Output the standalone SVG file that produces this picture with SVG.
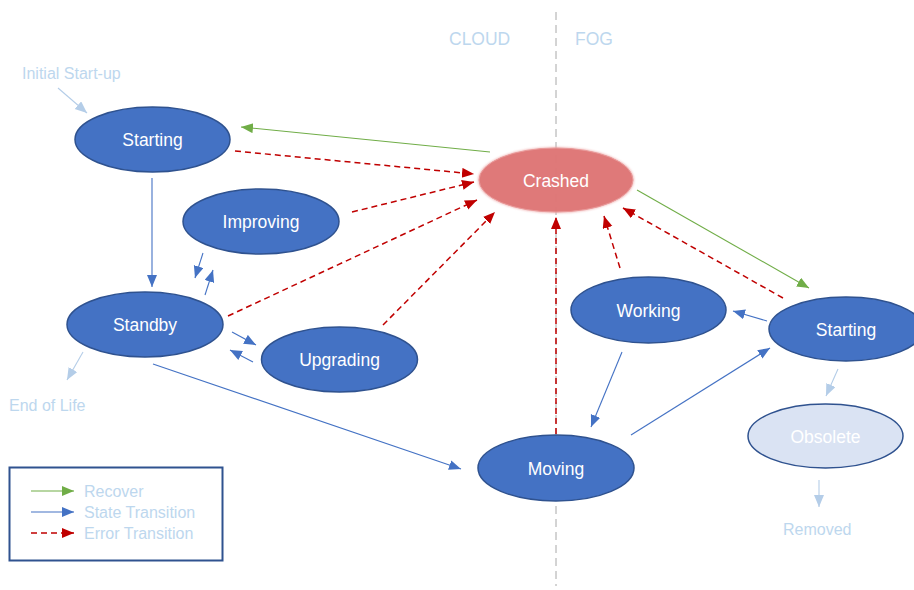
<svg xmlns="http://www.w3.org/2000/svg" width="914" height="590" viewBox="0 0 914 590">
  <style>
    .node { fill: #4472c4; stroke: #2f528f; stroke-width: 1.5; }
    .label { font-family: "Liberation Sans", Arial, sans-serif; font-size: 17.5px; fill: #ffffff; text-anchor: middle; }
    .note { font-family: "Liberation Sans", Arial, sans-serif; font-size: 16px; fill: #bdd7ee; }
    .zone { font-family: "Liberation Sans", Arial, sans-serif; font-size: 17.5px; fill: #bdd7ee; }
    .state { stroke: #4472c4; stroke-width: 1.1; fill: none; marker-end: url(#headBlue); }
    .soft { stroke: #b4cde8; stroke-width: 1.1; fill: none; marker-end: url(#headPale); }
    .recover { stroke: #70ad47; stroke-width: 1.1; fill: none; marker-end: url(#headGreen); }
    .error { stroke: #c00000; stroke-width: 1.5; stroke-dasharray: 6 4; fill: none; marker-end: url(#headRed); }
  </style>
  <defs>
    <marker id="headBlue" markerUnits="userSpaceOnUse" markerWidth="14" markerHeight="12" refX="12" refY="5" orient="auto">
      <path d="M0,0 L12,5 L0,10 z" fill="#4472c4"/>
    </marker>
    <marker id="headPale" markerUnits="userSpaceOnUse" markerWidth="14" markerHeight="12" refX="12" refY="5" orient="auto">
      <path d="M0,0 L12,5 L0,10 z" fill="#b4cde8"/>
    </marker>
    <marker id="headGreen" markerUnits="userSpaceOnUse" markerWidth="14" markerHeight="12" refX="12" refY="5" orient="auto">
      <path d="M0,0 L12,5 L0,10 z" fill="#70ad47"/>
    </marker>
    <marker id="headRed" markerUnits="userSpaceOnUse" markerWidth="14" markerHeight="12" refX="12" refY="5" orient="auto">
      <path d="M0,0 L12,5 L0,10 z" fill="#c00000"/>
    </marker>
    <filter id="glow" x="-20%" y="-30%" width="140%" height="160%">
      <feGaussianBlur stdDeviation="1.2"/>
    </filter>
  </defs>

  <rect width="914" height="590" fill="#ffffff"/>

  <!-- cloud / fog divider -->
  <line x1="556" y1="12" x2="556" y2="586" stroke="#a6a6a6" stroke-width="1.2" stroke-dasharray="8 5" opacity="0.8"/>

  <!-- zone titles -->
  <text class="zone" x="449" y="45">CLOUD</text>
  <text class="zone" x="575" y="45">FOG</text>

  <!-- free-standing notes -->
  <text class="note" x="22" y="79">Initial Start-up</text>
  <text class="note" x="9" y="411">End of Life</text>
  <text class="note" x="783" y="535">Removed</text>

  <!-- connectors -->
  <g id="connectors">
    <!-- pale lifecycle arrows -->
    <line class="soft" x1="58" y1="88" x2="87" y2="113"/>
    <line class="soft" x1="83" y1="352" x2="67" y2="380"/>
    <line class="soft" x1="838" y1="369" x2="826" y2="396"/>
    <line class="soft" x1="819" y1="480" x2="819" y2="507"/>

    <!-- state transitions -->
    <line class="state" x1="152" y1="178" x2="152" y2="287" stroke="#8faadc"/>
    <line class="state" x1="203" y1="253" x2="195" y2="278"/>
    <line class="state" x1="205" y1="295" x2="213" y2="270"/>
    <line class="state" x1="232" y1="332" x2="256" y2="345"/>
    <line class="state" x1="253" y1="362" x2="230" y2="350"/>
    <line class="state" x1="153" y1="364" x2="461" y2="469"/>
    <line class="state" x1="631" y1="435" x2="770" y2="348"/>
    <line class="state" x1="767" y1="321" x2="733" y2="311"/>
    <line class="state" x1="622" y1="352" x2="591" y2="427"/>

    <!-- recover -->
    <line class="recover" x1="490" y1="152" x2="241" y2="127"/>
    <line class="recover" x1="637" y1="190" x2="809" y2="288"/>

    <!-- error transitions -->
    <line class="error" x1="235" y1="151" x2="474" y2="174"/>
    <line class="error" x1="352" y1="212" x2="474" y2="182"/>
    <line class="error" x1="228" y1="316" x2="477" y2="200"/>
    <line class="error" x1="383" y1="325" x2="495" y2="212"/>
    <line class="error" x1="556" y1="434" x2="556" y2="217"/>
    <line class="error" x1="620" y1="268" x2="604" y2="216"/>
    <line class="error" x1="783" y1="298" x2="623" y2="208"/>
  </g>

  <!-- nodes -->
  <g id="starting-cloud">
    <ellipse class="node" cx="152.5" cy="139.5" rx="77.5" ry="32.5"/>
    <text class="label" x="152.5" y="146">Starting</text>
  </g>
  <g id="improving">
    <ellipse class="node" cx="261" cy="221.5" rx="78" ry="32.5"/>
    <text class="label" x="261" y="228">Improving</text>
  </g>
  <g id="standby">
    <ellipse class="node" cx="145" cy="324.5" rx="78" ry="32.5"/>
    <text class="label" x="145" y="331">Standby</text>
  </g>
  <g id="upgrading">
    <ellipse class="node" cx="339.5" cy="359.5" rx="78" ry="32.5"/>
    <text class="label" x="339.5" y="366">Upgrading</text>
  </g>
  <g id="crashed">
    <ellipse cx="556" cy="180" rx="78" ry="33" fill="#eea7a7" opacity="0.8" filter="url(#glow)"/>
    <ellipse cx="556" cy="180" rx="77" ry="32" fill="#dd7272" fill-opacity="0.9" stroke="#e99a9a" stroke-width="1"/>
    <text class="label" x="556" y="187">Crashed</text>
  </g>
  <g id="working">
    <ellipse class="node" cx="648.5" cy="310" rx="77.5" ry="33"/>
    <text class="label" x="648.5" y="316.5">Working</text>
  </g>
  <g id="moving">
    <ellipse class="node" cx="556" cy="468" rx="78" ry="33"/>
    <text class="label" x="556" y="474.5">Moving</text>
  </g>
  <g id="starting-fog">
    <ellipse class="node" cx="846" cy="329" rx="77" ry="32"/>
    <text class="label" x="846" y="335.5">Starting</text>
  </g>
  <g id="obsolete">
    <ellipse cx="825.5" cy="436" rx="77.5" ry="32" fill="#dae3f3" stroke="#2f528f" stroke-width="1.5"/>
    <text class="label" x="825.5" y="442.5">Obsolete</text>
  </g>

  <!-- legend -->
  <g id="legend">
    <rect x="9.5" y="467.5" width="213" height="93" fill="none" stroke="#2f528f" stroke-width="2"/>
    <line x1="31" y1="491" x2="74" y2="491" stroke="#70ad47" stroke-width="1.1" marker-end="url(#headGreen)"/>
    <line x1="31" y1="512" x2="74" y2="512" stroke="#4472c4" stroke-width="1.1" marker-end="url(#headBlue)"/>
    <line x1="31" y1="533" x2="74" y2="533" stroke="#c00000" stroke-width="1.5" stroke-dasharray="6 4" marker-end="url(#headRed)"/>
    <text class="note" x="84" y="497">Recover</text>
    <text class="note" x="84" y="518">State Transition</text>
    <text class="note" x="84" y="539">Error Transition</text>
  </g>
</svg>
